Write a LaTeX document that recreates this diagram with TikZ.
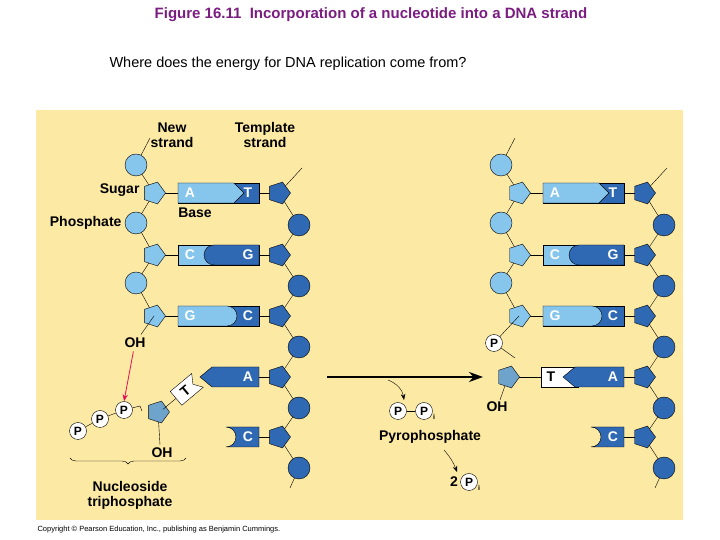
\documentclass[tikz,border=0pt]{standalone}
\usepackage{fontspec}
\setmainfont{Liberation Sans}
\usepackage{tikz}
\usetikzlibrary{shapes.geometric,arrows.meta,decorations.pathreplacing}
\definecolor{panel}{HTML}{FCE9A4}
\definecolor{lblue}{HTML}{86C5EC}
\definecolor{dblue}{HTML}{2F69B3}
\definecolor{mblue}{HTML}{6EA3CB}
\definecolor{titlec}{HTML}{7A1C80}
\definecolor{redarr}{HTML}{E0105A}
\tikzset{
  phos/.style={circle,draw=black,thin,minimum size=22pt,inner sep=0pt},
  sugar/.style={regular polygon,regular polygon sides=5,draw=black,thin,minimum size=23pt,inner sep=0pt,rotate=-18},
  pp/.style={circle,draw=black,fill=white,minimum size=17pt,inner sep=0pt,font=\bfseries\fontsize{12}{12}\selectfont},
  lab/.style={font=\bfseries\fontsize{14}{15}\selectfont,align=center},
  blab/.style={font=\bfseries\fontsize{14}{15}\selectfont,text=white},
  bb/.style={thin,black}
}
\begin{document}
\begin{tikzpicture}[x=1pt,y=1pt]
\useasboundingbox (0,0) rectangle (720,540);
%titel
\node[font=\bfseries\fontsize{15}{16}\selectfont,text=titlec] (title) at (371,525) {Figure 16.11\ \ Incorporation of a nucleotide into a DNA strand};
\node[anchor=west,font=\fontsize{14.5}{15}\selectfont] (quest) at (106,476) {Where does the energy for DNA replication come from?};
\fill[panel] (36,20) rectangle (683,430);
\node[anchor=west,font=\fontsize{7.5}{8}\selectfont] (copy) at (34,10) {Copyright \textcopyright{} Pearson Education, Inc., publishing as Benjamin Cummings.};

\foreach \dx in {0,365}{
  \begin{scope}[xshift=\dx]
  %new strand backbone
  \draw[bb] (150,402)--(136,375)--(154,347)--(136,317)--(154,285)--(136,257)--(154,224);
  \draw[bb] (154,347)--(178,347) (154,285)--(178,285) (154,224)--(178,224);
  \foreach \y in {375,317,257} \node[phos,fill=lblue] at (136,\y) {};
  \foreach \y in {347,285,224} \node[sugar,fill=lblue] at (154,\y) {};
  %template backbone
  \draw[bb] (302,372)--(279,347)--(299,315)--(279,285)--(299,254)--(279,224)--(299,193)--(279,163)--(299,132)--(279,103)--(299,72)--(290,52);
  \foreach \y in {347,285,224,163,103} \draw[bb] (259,\y)--(279,\y);
  \foreach \y in {315,254,193,132,72} \node[phos,fill=dblue] at (299,\y) {};
  \foreach \y in {347,285,224,163,103} \node[sugar,fill=dblue] at (279,\y) {};
  %A-T
  \fill[dblue,draw=black,thin] (178,337) rectangle (259,357);
  \fill[lblue,draw=black,thin] (178,357)--(234,357)--(244,347)--(234,337)--(178,337)--cycle;
  \node[blab] at (190,347) {A}; \node[blab] at (248,347) {T};
  %C-G
  \fill[lblue,draw=black,thin] (178,275) rectangle (259,295);
  \fill[dblue,draw=black,thin] (259,295)--(214,295) arc[start angle=90,end angle=270,radius=10]--(259,275)--cycle;
  \node[blab] at (190,285) {C}; \node[blab] at (248,285) {G};
  %G-C
  \fill[dblue,draw=black,thin] (178,214) rectangle (259,234);
  \fill[lblue,draw=black,thin] (178,234)--(227,234) arc[start angle=90,end angle=-90,radius=10]--(178,214)--cycle;
  \node[blab] at (190,224) {G}; \node[blab] at (248,224) {C};
  %C unpaired
  \fill[dblue,draw=black,thin] (259,113)--(226,113) arc[start angle=90,end angle=-90,radius=10]--(259,93)--cycle;
  \node[blab] at (248,103) {C};
  \end{scope}
}
%left: template A and incoming nucleotide
\fill[dblue,draw=black,thin] (259,173)--(212,173)--(200,163)--(212,153)--(259,153)--cycle;
\node[blab] (aL) at (248,163) {A};
\node[lab] (ohL) at (135,197) {OH};
\draw[bb] (154,224)--(ohL);
\draw[bb] (158,128)--(160,95);
\node[lab] (ohN) at (162,87) {OH};
\node[sugar,fill=mblue] (sugN) at (158,128) {};
\begin{scope}[shift={(186,150)},rotate=40]
  \draw[bb] (-30,0)--(-13,0);
  \fill[white,draw=black,thin] (-13,-9)--(15,-9)--(9,0)--(15,9)--(-13,9)--cycle;
  \node[font=\bfseries\fontsize{14}{15}\selectfont,rotate=40] (tN) at (-1,0) {T};
\end{scope}
\node[pp] (p1) at (124,130) {P};
\node[pp] (p2) at (100,121) {P};
\node[pp] (p3) at (78,109) {P};
\draw[bb] (p3)--(p2) (p2)--(p1) (p1)--(140,134)--(142,129);
\draw[-{Stealth[length=7pt]},redarr,thick] (ohL)--(p1.north);
\draw[decorate,decoration={brace,mirror,amplitude=6pt}] (70,82)--(186,82);
\node[lab] (nts) at (130,45) {Nucleoside\\triphosphate};
%labels
\node[lab] (newst) at (172,405) {New\\strand};
\node[lab] (templ) at (265,405) {Template\\strand};
\node[lab,anchor=east] (sugl) at (143,350) {Sugar};
\node[lab,anchor=east] (phl) at (125,317) {Phosphate};
\node[lab] (basel) at (195,327) {Base};
%reaction
\draw[-{Stealth[length=14pt,width=10pt]},line width=2.5pt] (327,163)--(483,163);
\draw[-{Stealth[length=6pt]}] (388,160) to[bend left=30] (404,140);
\node[pp] (pa) at (398,129) {P};
\node[pp] (pb) at (424,129) {P};
\node[font=\bfseries\scriptsize] at (434,123) {i};
\draw[bb] (pa)--(pb);
\node[lab] (pyro) at (430,103) {Pyrophosphate};
\draw[-{Stealth[length=6pt]}] (444,90) to[bend left=10] (457,68);
\node[lab] (two) at (454,58) {2};
\node[pp] (pc) at (469,58) {P};
\node[font=\bfseries\scriptsize] at (479,52) {i};
%right: new T
\node[pp] (pr) at (494,197) {P};
\draw[bb] (519,224)--(pr)--(515,182);
\draw[bb] (508,163)--(500,140);
\node[lab] (ohR) at (497,133) {OH};
\draw[bb] (508,163)--(541,163);
\node[sugar,fill=mblue] (sugR) at (508,163) {};
\fill[white,draw=black,thin] (541,153) rectangle (578,173);
\fill[dblue,draw=black,thin] (624,173)--(575,173)--(563,163)--(575,153)--(624,153)--cycle;
\node[font=\bfseries\fontsize{14}{15}\selectfont] (tR) at (551,163) {T};
\node[blab] (aR) at (613,163) {A};
\end{tikzpicture}
\end{document}
